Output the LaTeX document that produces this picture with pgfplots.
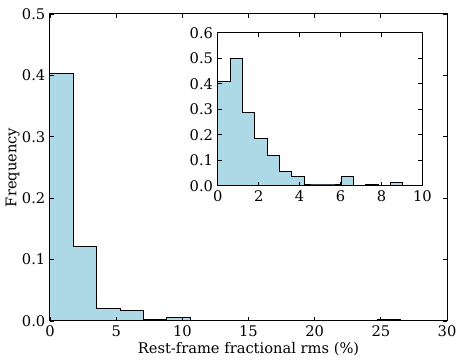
\documentclass[border=0pt]{standalone}
\usepackage{fontspec}
\setmainfont{DejaVu Serif}
\usepackage{pgfplots}
\pgfplotsset{compat=1.18}
\definecolor{histblue}{HTML}{ADD8E6}

\pgfplotsset{
  histax/.style={
    scale only axis,
    axis line style={black, line width=0.75pt},
    tick style={black, line width=0.6pt},
    major tick length=3pt,
    tick align=inside,
    xtick pos=both, ytick pos=both,
    tick label style={font=\fontsize{11}{13}\selectfont},
    /pgf/number format/assume math mode=true,
    yticklabel style={/pgf/number format/.cd, fixed, fixed zerofill, precision=1},
    xticklabel style={/pgf/number format/.cd, fixed, precision=0},
    scaled ticks=false,
    axis on top,
  },
  histline/.style={const plot mark left, fill=histblue, draw=black, line width=0.75pt},
}

\begin{document}
\begin{tikzpicture}
\useasboundingbox (-37.5pt,-31.5pt) rectangle (309.75pt,240.75pt);

% main histogram (density, 15 bins up to 26.5)
\begin{axis}[
    histax,
    at={(0pt,0pt)}, anchor=south west,
    width=297.75pt, height=230.25pt,
    xmin=0, xmax=30, ymin=0, ymax=0.5,
    xtick={0,5,10,15,20,25,30},
    ytick={0,0.1,0.2,0.3,0.4,0.5},
    xlabel={Rest-frame fractional rms (\%)},
    ylabel={Frequency},
    xlabel style={at={(axis description cs:0.5,-0.092)}, anchor=center,
                  font=\fontsize{11}{13}\selectfont},
    ylabel style={at={(axis description cs:-0.094,0.5)}, anchor=center,
                  rotate=0, font=\fontsize{11}{13}\selectfont},
]
\addplot[histline] coordinates {
  (0,0) (0,0.403) (1.767,0.121) (3.533,0.020) (5.300,0.017)
  (7.067,0.003) (8.833,0.005) (10.600,0) (12.367,0) (14.133,0)
  (15.900,0) (17.667,0) (19.433,0) (21.200,0) (22.967,0)
  (24.733,0.003) (26.500,0.003) (26.500,0)
} \closedcycle;
\end{axis}

% inset: values below ~9 %
\begin{axis}[
    histax,
    at={(125.8pt,101.5pt)}, anchor=south west,
    width=153.5pt, height=114.75pt,
    axis background/.style={fill=white},
    xmin=0, xmax=10, ymin=0, ymax=0.6,
    xtick={0,2,4,6,8,10},
    ytick={0,0.1,0.2,0.3,0.4,0.5,0.6},
]
\addplot[histline] coordinates {
  (0,0) (0,0.408) (0.603,0.500) (1.205,0.285) (1.808,0.186)
  (2.411,0.120) (3.013,0.055) (3.616,0.034) (4.219,0.0065)
  (4.821,0.0065) (5.424,0.0065) (6.027,0.034) (6.629,0)
  (7.232,0.0065) (7.835,0) (8.437,0.013) (9.040,0.013) (9.040,0)
} \closedcycle;
\end{axis}
\end{tikzpicture}
\end{document}
